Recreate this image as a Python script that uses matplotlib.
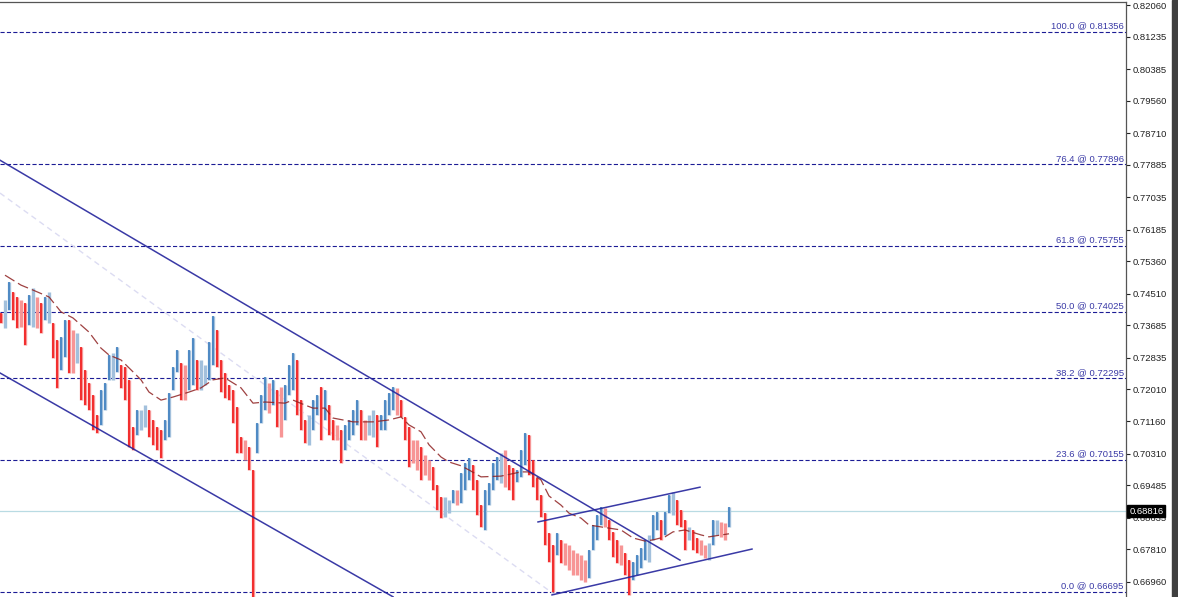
import numpy as np
import matplotlib.pyplot as plt
from matplotlib.patches import Rectangle

plt.rcParams['font.family'] = ['Liberation Sans', 'DejaVu Sans']
plt.rcParams['lines.scale_dashes'] = False


# bar highs / lows, one bar per period
highs = [
    0.7400, 0.7434, 0.7481, 0.7455, 0.7442, 0.7434, 0.7426, 0.7447, 0.7465, 0.7442,
    0.7426, 0.7442, 0.7455, 0.7374, 0.7329, 0.7337, 0.7382, 0.7382, 0.7355, 0.7347,
    0.7311, 0.7251, 0.7217, 0.7185, 0.7133, 0.7198, 0.7217, 0.7290, 0.7295, 0.7311,
    0.7264, 0.7259, 0.7225, 0.7102, 0.7146, 0.7146, 0.7159, 0.7146, 0.7120, 0.7102,
    0.7094, 0.7120, 0.7190, 0.7259, 0.7303, 0.7269, 0.7264, 0.7303, 0.7334, 0.7277,
    0.7277, 0.7264, 0.7324, 0.7392, 0.7355, 0.7277, 0.7243, 0.7212, 0.7198, 0.7154,
    0.7076, 0.7068, 0.7050, 0.6989, 0.7112, 0.7185, 0.7233, 0.7217, 0.7225, 0.7198,
    0.7207, 0.7212, 0.7264, 0.7295, 0.7277, 0.7172, 0.7120, 0.7133, 0.7172, 0.7185,
    0.7207, 0.7198, 0.7159, 0.7120, 0.7107, 0.7094, 0.7107, 0.7120, 0.7146, 0.7172,
    0.7146, 0.7120, 0.7133, 0.7146, 0.7133, 0.7133, 0.7172, 0.7190, 0.7207, 0.7204,
    0.7172, 0.7128, 0.7102, 0.7068, 0.7068, 0.7050, 0.7028, 0.7015, 0.6997, 0.6950,
    0.6919, 0.6919, 0.6910, 0.6937, 0.6937, 0.6981, 0.7007, 0.7020, 0.7002, 0.6963,
    0.6897, 0.6937, 0.6955, 0.7007, 0.7023, 0.7033, 0.7041, 0.7002, 0.6995, 0.6989,
    0.7041, 0.7086, 0.7081, 0.7015, 0.6968, 0.6924, 0.6876, 0.6824, 0.6793, 0.6824,
    0.6806, 0.6798, 0.6793, 0.6780, 0.6772, 0.6767, 0.6753, 0.6780, 0.6845, 0.6871,
    0.6892, 0.6889, 0.6858, 0.6827, 0.6806, 0.6793, 0.6772, 0.6753, 0.6748, 0.6767,
    0.6785, 0.6806, 0.6819, 0.6871, 0.6879, 0.6858, 0.6879, 0.6924, 0.6932, 0.6910,
    0.6884, 0.6858, 0.6840, 0.6832, 0.6811, 0.6806, 0.6793, 0.6798, 0.6858, 0.6858,
    0.6853, 0.6850, 0.6892,
]
lows = [
    0.7374, 0.7360, 0.7408, 0.7382, 0.7360, 0.7363, 0.7316, 0.7369, 0.7363, 0.7360,
    0.7347, 0.7382, 0.7374, 0.7282, 0.7204, 0.7251, 0.7285, 0.7243, 0.7243, 0.7269,
    0.7172, 0.7159, 0.7146, 0.7094, 0.7086, 0.7107, 0.7146, 0.7225, 0.7225, 0.7246,
    0.7204, 0.7172, 0.7050, 0.7041, 0.7081, 0.7094, 0.7102, 0.7076, 0.7055, 0.7041,
    0.7020, 0.7068, 0.7076, 0.7198, 0.7246, 0.7172, 0.7172, 0.7198, 0.7212, 0.7198,
    0.7198, 0.7212, 0.7225, 0.7264, 0.7259, 0.7193, 0.7177, 0.7172, 0.7112, 0.7033,
    0.7033, 0.7015, 0.6989, 0.6640, 0.7033, 0.7112, 0.7146, 0.7138, 0.7159, 0.7102,
    0.7076, 0.7120, 0.7185, 0.7198, 0.7133, 0.7094, 0.7060, 0.7055, 0.7094, 0.7133,
    0.7068, 0.7120, 0.7081, 0.7068, 0.7068, 0.7007, 0.7041, 0.7068, 0.7081, 0.7107,
    0.7068, 0.7068, 0.7081, 0.7076, 0.7050, 0.7094, 0.7094, 0.7133, 0.7146, 0.7133,
    0.7128, 0.7068, 0.6997, 0.7007, 0.6989, 0.6963, 0.6976, 0.6963, 0.6937, 0.6884,
    0.6863, 0.6866, 0.6876, 0.6902, 0.6897, 0.6902, 0.6937, 0.6963, 0.6937, 0.6871,
    0.6840, 0.6832, 0.6897, 0.6937, 0.6963, 0.6955, 0.6945, 0.6937, 0.6910, 0.6958,
    0.6971, 0.7002, 0.6976, 0.6945, 0.6910, 0.6866, 0.6793, 0.6748, 0.6670, 0.6767,
    0.6745, 0.6740, 0.6727, 0.6714, 0.6714, 0.6701, 0.6696, 0.6706, 0.6780, 0.6806,
    0.6845, 0.6840, 0.6806, 0.6761, 0.6745, 0.6740, 0.6714, 0.6662, 0.6701, 0.6714,
    0.6732, 0.6753, 0.6748, 0.6806, 0.6832, 0.6806, 0.6819, 0.6876, 0.6871, 0.6845,
    0.6840, 0.6780, 0.6806, 0.6780, 0.6772, 0.6767, 0.6758, 0.6753, 0.6793, 0.6819,
    0.6814, 0.6806, 0.6840,
]

# moving average, read at a subset of bars
ma_bars = [1, 5, 8, 12, 15, 18, 22, 25, 27, 30, 33, 35, 37, 40, 43, 47, 50, 53, 56, 60,
           63, 66, 71, 73, 76, 78, 81, 83, 88, 93, 97, 100, 102, 105, 107, 110, 112, 115, 117, 120,
           125, 130, 132, 135, 137, 140, 142, 145, 147, 150, 155, 158, 161, 163, 166, 168, 171, 175, 177, 182]
ma_values = [0.7499, 0.7473, 0.7460, 0.7442, 0.7403, 0.7387, 0.7350, 0.7308, 0.7290, 0.7277,
             0.7246, 0.7225, 0.7193, 0.7172, 0.7180, 0.7193, 0.7204, 0.7225, 0.7230, 0.7204,
             0.7164, 0.7167, 0.7164, 0.7172, 0.7159, 0.7151, 0.7151, 0.7125, 0.7115, 0.7115,
             0.7120, 0.7128, 0.7107, 0.7089, 0.7055, 0.7023, 0.7010, 0.7000, 0.6989, 0.6971,
             0.6973, 0.6984, 0.6984, 0.6963, 0.6921, 0.6897, 0.6876, 0.6863, 0.6845, 0.6840,
             0.6832, 0.6811, 0.6803, 0.6806, 0.6814, 0.6827, 0.6832, 0.6819, 0.6814, 0.6822]

# fibonacci retracement
fib_pcts = [100.0, 76.4, 61.8, 50.0, 38.2, 23.6, 0.0]
fib_prices = [0.81356, 0.77896, 0.75755, 0.74025, 0.72295, 0.70155, 0.66695]

# trend lines: (bar, price) -> (bar, price)
trend_lines = [
    ((-0.25, 0.7800), (169.75, 0.6753)),   # falling channel top
    ((-0.25, 0.7243), (98.0, 0.6657)),     # falling channel bottom
    ((134.25, 0.6853), (174.75, 0.6944)),  # rising channel top
    ((137.75, 0.6662), (187.75, 0.6782)),  # rising channel bottom
]
mid_line = ((-0.25, 0.7714), (138.5, 0.6662))

last_price = 0.68816
price_ticks = [0.82060, 0.81235, 0.80385, 0.79560, 0.78710, 0.77885, 0.77035, 0.76185,
               0.75360, 0.74510, 0.73685, 0.72835, 0.72010, 0.71160, 0.70310, 0.69485,
               0.68635, 0.67810, 0.66960]


def main():
    fig = plt.figure(figsize=(11.78, 5.97), dpi=100)
    ax = fig.add_axes([0, 0, 1126 / 1178, 595 / 597])

    h = np.array(highs)
    l = np.array(lows)
    x = np.arange(len(h))
    mid = (h + l) / 2
    change = np.diff(mid, prepend=mid[0] + 0.002)
    up = change >= 0
    strong = np.abs(change) >= 0.0014

    # price line
    ax.axhline(last_price, color='#b9dbe3', lw=0.9, zorder=1)

    # fib levels
    for pct, price in zip(fib_pcts, fib_prices):
        ax.axhline(price, color='#1c1c95', lw=0.8, dashes=(3, 1.6), zorder=2)
        ax.annotate('%.1f @ %.5f' % (pct, price), xy=(0.998, price),
                    xycoords=ax.get_yaxis_transform(), xytext=(0, 1.0),
                    textcoords='offset points', ha='right', va='bottom',
                    fontsize=6.8, color='#3a3aa6')

    # bars
    light = np.where(up, '#a2c0dc', '#f79595')
    dark = np.where(up, '#3f80c0', '#f21b1b')
    ax.vlines(x, l, h, colors=light, lw=2.4, zorder=3)
    ax.vlines(x[strong], l[strong], h[strong], colors=dark[strong], lw=1.2, zorder=4)

    # moving average
    ax.plot(ma_bars, ma_values, color='#8e2020', lw=0.9, alpha=0.85,
            dashes=(8, 3), zorder=5)

    # trend lines
    (x0, y0), (x1, y1) = mid_line
    ax.plot([x0, x1], [y0, y1], color='#dcdcf2', lw=1.0, dashes=(4, 3), zorder=2)
    for (x0, y0), (x1, y1) in trend_lines:
        ax.plot([x0, x1], [y0, y1], color='#24249c', lw=1.1, alpha=0.9, zorder=6)

    ax.set_xlim(-0.25, 281.25)
    ax.set_ylim(0.66565, 0.82142)

    ax.yaxis.tick_right()
    ax.set_yticks(price_ticks)
    ax.set_yticklabels(['%.5f' % t for t in price_ticks])
    ax.set_xticks([])
    ax.tick_params(axis='y', direction='out', length=3, width=0.8, pad=2,
                   labelsize=6.8, colors='#222222')
    for side in ['left', 'bottom']:
        ax.spines[side].set_visible(False)
    for side in ['top', 'right']:
        ax.spines[side].set_color('#555555')
        ax.spines[side].set_linewidth(0.9)

    ax.text(1.003, last_price, '%.5f' % last_price, transform=ax.get_yaxis_transform(),
            ha='left', va='center', color='white', fontsize=6.8, zorder=10, clip_on=False,
            bbox=dict(boxstyle='square,pad=0.2', fc='black', ec='black'))

    fig.patches.append(Rectangle((1172 / 1178, 0), 6 / 1178, 1, transform=fig.transFigure,
                                 color='#3f3f3f', zorder=0))

    plt.savefig('out.png', dpi=100)
    plt.close()


if __name__ == '__main__':
    main()
